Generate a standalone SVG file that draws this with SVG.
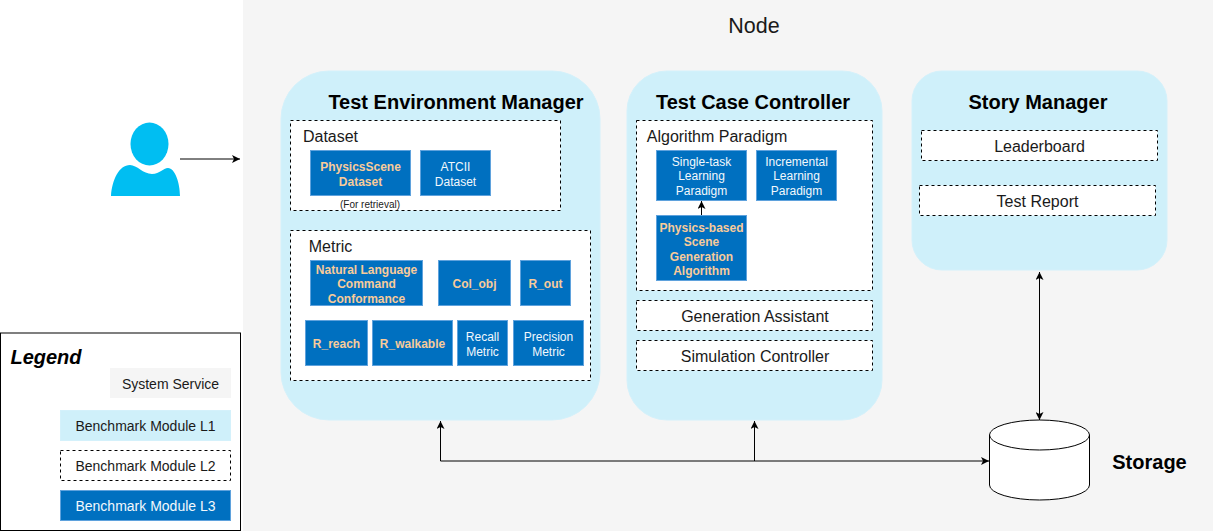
<svg xmlns="http://www.w3.org/2000/svg" width="1213" height="531" viewBox="0 0 1213 531">
<style>
text{font-family:"Liberation Sans",Arial,sans-serif;text-anchor:middle;fill:#1a1a1a}
.l1{fill:#cff0fa;stroke:#d4f1fb;stroke-width:1}
.l2{fill:#fff;stroke:#000;stroke-width:1;stroke-dasharray:3 3}
.l3{fill:#0070c0;stroke:#5fa2dd;stroke-width:1}
.title{font-size:20px;font-weight:bold;fill:#000}
.t14{font-size:16px}
.bo{font-size:12px;font-weight:bold;fill:#f8cb9a}
.w{font-size:12px;fill:#f2f8fc}
.c{fill:none;stroke:#000;stroke-width:1}
.st{font-size:14px}
</style>
<defs>
<marker id="a" markerWidth="9" markerHeight="8" refX="8" refY="4" orient="auto-start-reverse" markerUnits="userSpaceOnUse"><path d="M0 0L8 4L0 8L2 4Z" fill="#000"/></marker>
</defs>
<rect id="node-bg" x="243" y="0" width="970" height="531" fill="#f5f5f5"/>
<text x="754" y="33" style="font-size:21.500px">Node</text>

<g id="test-environment-manager">
<rect class="l1" x="281" y="71" width="319" height="349" rx="48"/>
<text class="title" x="456" y="109">Test Environment Manager</text>
</g>
<g id="dataset">
<rect class="l2" x="290.500" y="120.500" width="270" height="90"/>
<text class="t14" x="330.500" y="142">Dataset</text>
</g>
<g id="physicsscene">
<rect class="l3" x="310.500" y="150.500" width="100" height="45"/>
<text class="bo" x="360.500" y="171">PhysicsScene</text><text class="bo" x="360.500" y="186">Dataset</text>
<text x="370" y="208" style="font-size:10px">(For retrieval)</text>
</g>
<g id="atcii">
<rect class="l3" x="420.500" y="150.500" width="70" height="45"/>
<text class="w" x="455.500" y="171">ATCII</text><text class="w" x="455.500" y="186">Dataset</text>
</g>
<g id="metric">
<rect class="l2" x="290.500" y="230.500" width="300" height="150"/>
<text class="t14" x="330.500" y="252">Metric</text>
</g>
<g id="nl-conformance">
<rect class="l3" x="310.500" y="260.500" width="112" height="45"/>
<text class="bo" x="366.500" y="274">Natural Language</text><text class="bo" x="366.500" y="288">Command</text><text class="bo" x="366.500" y="303">Conformance</text>
</g>
<g id="col-obj"><rect class="l3" x="438.500" y="260.500" width="72" height="45"/><text class="bo" x="474.500" y="288">Col_obj</text></g>
<g id="r-out"><rect class="l3" x="520.500" y="260.500" width="50" height="45"/><text class="bo" x="545.500" y="288">R_out</text></g>
<g id="r-reach"><rect class="l3" x="305.500" y="320.500" width="62" height="45"/><text class="bo" x="336.500" y="348">R_reach</text></g>
<g id="r-walkable"><rect class="l3" x="372.500" y="320.500" width="80" height="45"/><text class="bo" x="412.500" y="348">R_walkable</text></g>
<g id="recall"><rect class="l3" x="457.500" y="320.500" width="50" height="45"/><text class="w" x="482.500" y="341">Recall</text><text class="w" x="482.500" y="356">Metric</text></g>
<g id="precision"><rect class="l3" x="513.500" y="320.500" width="70" height="45"/><text class="w" x="548.500" y="341">Precision</text><text class="w" x="548.500" y="356">Metric</text></g>

<g id="test-case-controller">
<rect class="l1" x="627" y="71" width="255" height="349" rx="40"/>
<text class="title" x="753" y="109">Test Case Controller</text>
</g>
<g id="algorithm-paradigm">
<rect class="l2" x="636.500" y="120.500" width="236" height="170"/>
<text class="t14" x="717" y="142">Algorithm Paradigm</text>
</g>
<g id="single-task">
<rect class="l3" x="656.500" y="150.500" width="90" height="50"/>
<text class="w" x="701.500" y="166">Single-task</text><text class="w" x="701.500" y="180">Learning</text><text class="w" x="701.500" y="195">Paradigm</text>
</g>
<g id="incremental">
<rect class="l3" x="756.500" y="150.500" width="80" height="50"/>
<text class="w" x="796.500" y="166">Incremental</text><text class="w" x="796.500" y="180">Learning</text><text class="w" x="796.500" y="195">Paradigm</text>
</g>
<g id="physics-based">
<rect class="l3" x="656.500" y="215.500" width="90" height="65"/>
<text class="bo" x="701.500" y="232">Physics-based</text><text class="bo" x="701.500" y="246">Scene</text><text class="bo" x="701.500" y="261">Generation</text><text class="bo" x="701.500" y="275">Algorithm</text>
</g>
<g id="generation-assistant"><rect class="l2" x="636.500" y="300.500" width="236" height="30"/><text class="t14" x="755" y="322">Generation Assistant</text></g>
<g id="simulation-controller"><rect class="l2" x="636.500" y="340.500" width="236" height="30"/><text class="t14" x="755" y="362">Simulation Controller</text></g>

<g id="story-manager">
<rect class="l1" x="912" y="71" width="255" height="199" rx="30"/>
<text class="title" x="1038" y="109">Story Manager</text>
</g>
<g id="leaderboard"><rect class="l2" x="921.500" y="130.500" width="236" height="30"/><text class="t14" x="1039.500" y="152">Leaderboard</text></g>
<g id="test-report"><rect class="l2" x="919.500" y="185.500" width="236" height="30"/><text class="t14" x="1037.500" y="207">Test Report</text></g>

<g id="storage">
<path d="M989.500 435A50 15 0 0 1 1089.500 435V485A50 15 0 0 1 989.500 485Z" fill="#fff" stroke="#000"/>
<path d="M989.500 435A50 15 0 0 0 1089.500 435" fill="none" stroke="#000"/>
<text class="title" x="1149.500" y="469">Storage</text>
</g>

<g id="user">
<ellipse cx="149.500" cy="144" rx="19" ry="21.500" fill="#00bef2"/>
<path d="M111 196C112 180 119 165 130 165C137 165 143 174 152 174C160 174 163 168 168 168C175 168 180 183 180 196Z" fill="#00bef2"/>
</g>

<g id="connectors">
<path class="c" d="M180 159H240" marker-end="url(#a)"/>
<path class="c" d="M701.500 215V201" marker-end="url(#a)"/>
<path class="c" d="M1039.500 420V272" marker-start="url(#a)" marker-end="url(#a)"/>
<path class="c" d="M440.500 421V461H989" marker-start="url(#a)" marker-end="url(#a)"/>
<path class="c" d="M754.500 461V421" marker-end="url(#a)"/>
</g>

<g id="legend">
<rect x="0.500" y="333" width="240" height="197.500" fill="#fff" stroke="#000"/>
<text x="46" y="364" style="font-size:20px;font-weight:bold;font-style:italic;fill:#000">Legend</text>
<rect x="110" y="368" width="121" height="30" fill="#f5f5f5"/>
<text class="st" x="170.500" y="389">System Service</text>
<rect class="l1" x="60.500" y="410.500" width="170" height="30"/>
<text class="st" x="145.500" y="431">Benchmark Module L1</text>
<rect class="l2" x="60.500" y="450.500" width="170" height="30"/>
<text class="st" x="145.500" y="471">Benchmark Module L2</text>
<rect class="l3" x="60.500" y="490.500" width="170" height="30"/>
<text class="st" x="145.500" y="511" style="fill:#f2f8fc">Benchmark Module L3</text>
</g>
</svg>
